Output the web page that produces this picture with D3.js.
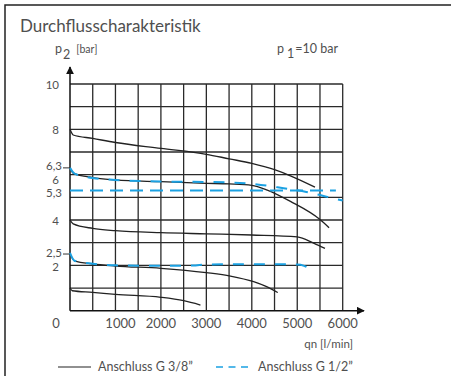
<!DOCTYPE html>
<html>
<head>
<meta charset="utf-8">
<script src="https://cdn.jsdelivr.net/npm/d3@7"></script>
<style>
  body { margin: 0; background: #fff; }
  svg text { font-family: Lato, "Open Sans", sans-serif; fill: #505050; }
</style>
</head>
<body>
<svg id="chart"></svg>
<script>
// flow in l/min, p2 in bar
const curve8 = [[0, 8.0], [70, 7.75], [500, 7.6], [1000, 7.42], [2000, 7.16], [3000, 6.9], [3500, 6.7], [4000, 6.5], [4500, 6.22], [4850, 5.95], [5390, 5.45]];
const curve63 = [[0, 6.3], [70, 6.07], [500, 5.87], [1000, 5.77], [2000, 5.69], [3000, 5.62], [3500, 5.59], [4000, 5.53], [4340, 5.32], [4850, 4.82], [5500, 4.02], [5700, 3.66]];
const curve4 = [[0, 4.0], [70, 3.83], [500, 3.63], [1000, 3.53], [2000, 3.44], [3000, 3.39], [4000, 3.34], [5000, 3.26], [5370, 2.97], [5610, 2.75]];
const curve25 = [[0, 2.5], [100, 2.2], [500, 2.06], [1000, 1.97], [2000, 1.87], [3000, 1.68], [3530, 1.53], [4040, 1.28], [4300, 1.08], [4570, 0.8]];
const curve1 = [[0, 1.0], [50, 0.88], [500, 0.81], [1000, 0.72], [2000, 0.59], [2500, 0.44], [2870, 0.25]];

const blue53 = [[0, 5.3], [5850, 5.3]];
const blue63 = [[0, 6.3], [100, 6.05], [500, 5.85], [1000, 5.77], [2000, 5.7], [3000, 5.68], [3600, 5.65], [4200, 5.55], [4700, 5.4], [5200, 5.24], [5500, 5.1], [5700, 5.0], [6000, 4.86]];
const blue25 = [[0, 2.55], [100, 2.2], [500, 2.07], [1000, 2.0], [2000, 1.98], [2700, 1.99], [3000, 2.04], [4000, 2.05], [5000, 2.04], [5150, 1.98], [5330, 1.77]];

const seriesSolid = [curve8, curve63, curve4, curve25, curve1];
const seriesDashed = [blue53, blue63, blue25];

const xTicks = [0, 1000, 2000, 3000, 4000, 5000, 6000];
const yTicks = [10, 8, 6.3, 6, 5.3, 4, 2.5, 2];
const yMarked = [6.3, 2.5];

const width = 451, height = 376;
const x = d3.scaleLinear().domain([0, 6000]).range([70, 342.7]);
const y = d3.scaleLinear().domain([0, 10]).range([310.7, 84]);

// small vertical nudges for crowded y labels
const yLabelShift = { 6.3: 2, 6: 9, 5.3: 6, 2.5: 3, 2: 6 };

const svg = d3.select('#chart')
    .attr('width', width)
    .attr('height', height);

// frame
svg.append('path')
    .attr('d', `M5,${height} V5 H${width}`)
    .attr('fill', 'none')
    .attr('stroke', '#222')
    .attr('stroke-width', 1.5);

svg.append('text')
    .attr('x', 20)
    .attr('y', 32)
    .style('font-size', '17px')
    .text('Durchflusscharakteristik');

// grid
const grid = svg.append('g')
    .attr('stroke', '#2a2a2a')
    .attr('stroke-width', 1.3);

grid.selectAll('.hline')
    .data(d3.range(1, 11))
    .enter()
    .append('line')
    .attr('x1', x(0))
    .attr('x2', x(6000))
    .attr('y1', d => y(d))
    .attr('y2', d => y(d));

grid.selectAll('.vline')
    .data(d3.range(500, 6001, 500))
    .enter()
    .append('line')
    .attr('x1', d => x(d))
    .attr('x2', d => x(d))
    .attr('y1', y(10))
    .attr('y2', y(0));

// axes with arrows
svg.append('defs').append('marker')
    .attr('id', 'arrow')
    .attr('viewBox', '0 0 10 10')
    .attr('refX', 9)
    .attr('refY', 5)
    .attr('markerWidth', 8)
    .attr('markerHeight', 8)
    .attr('markerUnits', 'userSpaceOnUse')
    .attr('orient', 'auto')
    .append('path')
    .attr('d', 'M0,0 L10,5 L0,10 z')
    .attr('fill', '#111');

svg.append('line')
    .attr('x1', x(0)).attr('x2', x(0))
    .attr('y1', y(0)).attr('y2', 67)
    .attr('stroke', '#111').attr('stroke-width', 1.5)
    .attr('marker-end', 'url(#arrow)');

svg.append('line')
    .attr('x1', x(0)).attr('x2', 364)
    .attr('y1', y(0)).attr('y2', y(0))
    .attr('stroke', '#111').attr('stroke-width', 1.5)
    .attr('marker-end', 'url(#arrow)');

// y tick labels
svg.selectAll('.ylab')
    .data(yTicks)
    .enter()
    .append('text')
    .attr('x', d => Number.isInteger(d) ? 59 : 62)
    .attr('y', d => y(d) + (yLabelShift[d] !== undefined ? yLabelShift[d] : 5))
    .attr('text-anchor', 'end')
    .style('font-size', '11.5px')
    .text(d => String(d).replace('.', ','));

svg.selectAll('.ytick')
    .data(yMarked)
    .enter()
    .append('line')
    .attr('x1', 63).attr('x2', x(0))
    .attr('y1', d => y(d)).attr('y2', d => y(d))
    .attr('stroke', '#333').attr('stroke-width', 1);

// x tick labels
svg.selectAll('.xlab')
    .data(xTicks)
    .enter()
    .append('text')
    .attr('x', d => d === 0 ? 56 : x(d) + (d === 1000 ? 5 : 0))
    .attr('y', 328)
    .attr('text-anchor', 'middle')
    .style('font-size', '13px')
    .text(d => d);

// axis titles
const yTitle = svg.append('text').attr('x', 55).attr('y', 53).style('font-size', '12.5px');
yTitle.append('tspan').text('p');
yTitle.append('tspan').attr('dy', 6).attr('dx', 1).text('2');
yTitle.append('tspan').attr('dy', -6).attr('dx', 6).style('font-size', '10.5px').text('[bar]');

const p1 = svg.append('text').attr('x', 277).attr('y', 53).style('font-size', '12.5px');
p1.append('tspan').text('p');
p1.append('tspan').attr('dy', 5).attr('dx', 3).text('1');
p1.append('tspan').attr('dy', -5).attr('dx', 1).text('=10 bar');

svg.append('text')
    .attr('x', 353)
    .attr('y', 348)
    .attr('text-anchor', 'end')
    .style('font-size', '11.5px')
    .text('qn [l/min]');

// curves
const line = d3.line()
    .x(d => x(d[0]))
    .y(d => y(d[1]))
    .curve(d3.curveMonotoneX);

svg.selectAll('.solid')
    .data(seriesSolid)
    .enter()
    .append('path')
    .attr('d', line)
    .attr('fill', 'none')
    .attr('stroke', '#222')
    .attr('stroke-width', 1.3);

svg.selectAll('.dashed')
    .data(seriesDashed)
    .enter()
    .append('path')
    .attr('d', line)
    .attr('fill', 'none')
    .attr('stroke', '#1ba1e2')
    .attr('stroke-width', 2)
    .attr('stroke-dasharray', (d, i) => i === 0 ? '13,7' : '11,10');

// legend
const legend = svg.append('g');
legend.append('line')
    .attr('x1', 58).attr('x2', 91).attr('y1', 367).attr('y2', 367)
    .attr('stroke', '#222').attr('stroke-width', 1.2);
legend.append('text')
    .attr('x', 98).attr('y', 371)
    .style('font-size', '12.5px')
    .text('Anschluss G 3/8\u201d');
legend.append('line')
    .attr('x1', 216).attr('x2', 248).attr('y1', 367).attr('y2', 367)
    .attr('stroke', '#1ba1e2').attr('stroke-width', 1.3)
    .attr('stroke-dasharray', '7,5.5');
legend.append('text')
    .attr('x', 258).attr('y', 371)
    .style('font-size', '12.5px')
    .text('Anschluss G 1/2\u201d');
</script>
</body>
</html>
